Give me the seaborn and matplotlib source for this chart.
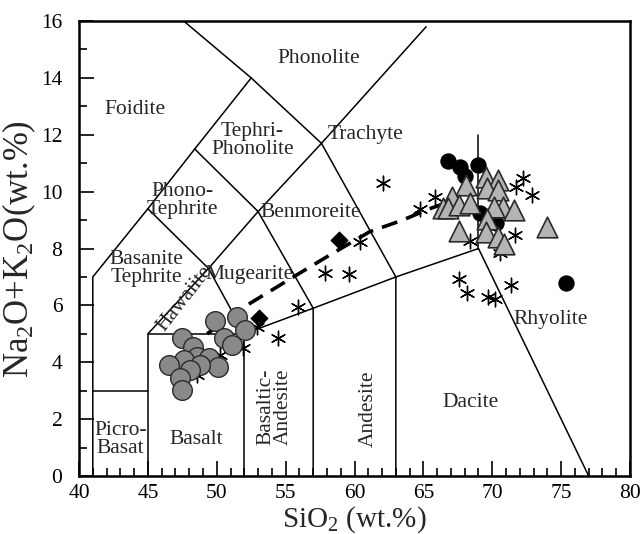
import numpy as np
import pandas as pd
import matplotlib
matplotlib.use("Agg")
import matplotlib.pyplot as plt
import seaborn as sns

# ---------------- data ----------------
basalt_x = [49.9, 51.5, 52.05, 50.5, 51.1, 47.5, 48.3, 48.55, 47.6, 46.5, 49.4, 50.1, 48.8, 48.05, 47.35, 47.45]
basalt_y = [5.45, 5.60, 5.13, 4.84, 4.61, 4.84, 4.55, 4.19, 4.08, 3.90, 4.14, 3.84, 3.90, 3.73, 3.43, 3.02]

diamond_x = [53.1, 58.9]
diamond_y = [5.57, 8.30]

star_x = [62.1, 60.4, 57.85, 59.6, 64.75, 55.9, 54.45, 51.9, 50.25, 48.55, 52.9,
          65.85, 72.25, 71.75, 72.85, 68.4, 71.65, 70.55, 67.6, 68.15, 69.7, 70.2, 71.35]
star_y = [10.29, 8.24, 7.15, 7.10, 9.38, 5.95, 4.85, 4.49, 4.25, 3.55, 5.25,
          9.82, 10.47, 10.17, 9.88, 8.27, 8.47, 7.83, 6.92, 6.45, 6.30, 6.21, 6.72]

dot_x = [66.75, 67.65, 69.0, 68.0, 69.1, 70.3, 75.35]
dot_y = [11.07, 10.88, 10.94, 10.55, 9.24, 8.89, 6.80]

tri_x = [68.1, 69.55, 70.4, 69.6, 70.45, 67.05, 66.45, 66.8, 67.6, 68.4, 70.75, 71.6,
         70.1, 69.6, 69.55, 67.55, 70.45, 70.85, 73.95]
tri_y = [10.23, 10.53, 10.41, 10.12, 10.06, 9.82, 9.42, 9.41, 9.52, 9.59, 9.47, 9.35,
         9.47, 9.04, 8.57, 8.62, 8.41, 8.17, 8.77]

trend_x = [49.3, 52.0, 55.8, 58.2, 61.1, 63.5, 65.3, 66.6]
trend_y = [5.0, 5.95, 7.07, 7.77, 8.59, 9.0, 9.37, 9.6]

# TAS field boundaries
boundaries = [
    [(41, 0), (41, 7), (45, 9.4)],
    [(41, 3), (45, 3)],
    [(45, 0), (45, 5), (52, 5), (52, 0)],
    [(52, 5), (57, 5.9), (57, 0)],
    [(57, 5.9), (63, 7), (63, 0)],
    [(63, 7), (69, 8), (77, 0)],
    [(69, 8), (69, 12)],
    [(45, 9.4), (48.4, 11.5), (52.5, 14), (47.6, 16)],
    [(45, 5), (49.4, 7.3), (53, 9.3), (57.6, 11.7), (65.2, 15.8)],
    [(52, 5), (49.4, 7.3), (45, 9.4)],
    [(57, 5.9), (53, 9.3), (48.4, 11.5)],
    [(63, 7), (57.6, 11.7), (52.5, 14)],
]

field_names = ["Phonolite", "Foidite", "Tephri-\nPhonolite", "Trachyte", "Phono-\nTephrite",
               "Benmoreite", "Basanite\nTephrite", "Mugearite", "Hawaiite", "Rhyolite",
               "Andesite", "Basaltic-\nAndesite", "Dacite", "Basalt", "Picro-\nBasat"]
field_x = [57.4, 44.1, 52.6, 60.8, 47.5, 56.8, 44.9, 52.35, 47.65, 74.2, 61.0, 54.2, 68.4, 48.5, 43.0]
field_y = [14.7, 12.9, 11.8, 12.0, 9.7, 9.25, 7.3, 7.07, 6.25, 5.5, 2.35, 2.45, 2.6, 1.27, 1.27]
field_rot = [0, 0, 0, 0, 0, 0, 0, 0, 52, 0, 90, 90, 0, 0, 0]

# ---------------- style ----------------
sns.set_style("ticks")
plt.rcParams["font.family"] = ["Liberation Serif", "DejaVu Serif"]
plt.rcParams["mathtext.fontset"] = "custom"
plt.rcParams["mathtext.rm"] = "Liberation Serif"
plt.rcParams["mathtext.it"] = "Liberation Serif:italic"

fig = plt.figure(figsize=(6.44, 5.34), dpi=100)
ax = fig.add_axes([0.1227, 0.1086, 0.8556, 0.852])

for seg in boundaries:
    xs, ys = zip(*seg)
    ax.plot(xs, ys, color="black", lw=1.1, zorder=1)

trend = pd.DataFrame({"x": trend_x, "y": trend_y})
sns.lineplot(data=trend, x="x", y="y", ax=ax, color="black", lw=2.6,
             dashes=False, linestyle=(0, (4.5, 2.6)), zorder=2)

stars = pd.DataFrame({"x": star_x, "y": star_y})
sns.scatterplot(data=stars, x="x", y="y", ax=ax, marker=(6, 2, 0), s=110,
                color="black", linewidth=1.0, zorder=3)

bas = pd.DataFrame({"x": basalt_x, "y": basalt_y})
sns.scatterplot(data=bas, x="x", y="y", ax=ax, marker="o", s=200,
                color="#898989", edgecolor="#2a2a2a", linewidth=1.0, zorder=4)

dots = pd.DataFrame({"x": dot_x, "y": dot_y})
sns.scatterplot(data=dots, x="x", y="y", ax=ax, marker="o", s=120,
                color="black", edgecolor="black", linewidth=0.8, zorder=4)

tris = pd.DataFrame({"x": tri_x, "y": tri_y})
sns.scatterplot(data=tris, x="x", y="y", ax=ax, marker="^", s=220,
                color="#b4b4b4", edgecolor="#2a2a2a", linewidth=1.2, zorder=5)

dia = pd.DataFrame({"x": diamond_x, "y": diamond_y})
sns.scatterplot(data=dia, x="x", y="y", ax=ax, marker="D", s=75,
                color="black", edgecolor="black", zorder=6)

for name, x, y, r in zip(field_names, field_x, field_y, field_rot):
    ax.text(x, y, name, fontsize=15.5, ha="center", va="center", rotation=r,
            linespacing=0.92, zorder=7)

ax.set_xlim(40, 80)
ax.set_ylim(0, 16)
ax.set_xticks(np.arange(40, 81, 5))
ax.set_xticks(np.arange(40, 81, 1), minor=True)
ax.set_yticks(np.arange(0, 17, 2))
ax.set_yticks(np.arange(0, 17, 1), minor=True)
ax.tick_params(which="both", direction="in", top=False, right=False,
               labelsize=15.5, width=1.2, colors="black")
ax.tick_params(which="major", length=10.5)
ax.tick_params(axis="x", which="major", pad=6)
ax.tick_params(axis="y", which="major", pad=12)
ax.tick_params(which="minor", length=5.5)
for sp in ax.spines.values():
    sp.set_linewidth(1.8)
    sp.set_color("black")

ax.set_xlabel("SiO$_2$ (wt.%)", fontsize=21, labelpad=1)
ax.set_ylabel("Na$_2$O+K$_2$O(wt.%)", fontsize=25, labelpad=2)

fig.savefig("out.png", dpi=100)
